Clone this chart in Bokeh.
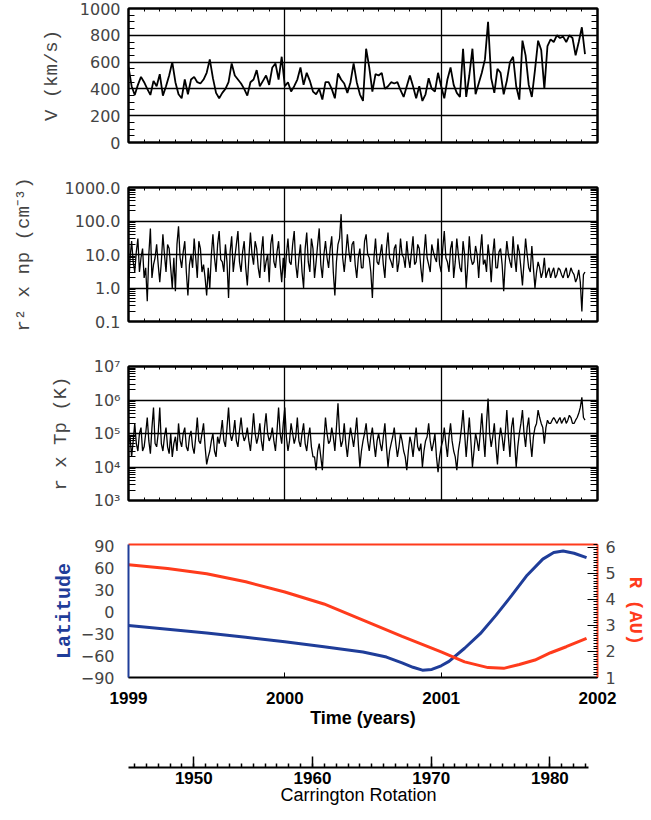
import numpy as np
from bokeh.plotting import figure
from bokeh.layouts import column
from bokeh.models import (Range1d, LinearAxis, FixedTicker, SingleIntervalTicker,
                          CustomJSTickFormatter)
from bokeh.embed import file_html
from bokeh.resources import INLINE

# ---------------- data ----------------
T_START = 1999.0
T_STEP = 0.02          # main samples at 1999.00, 1999.02, ...; *_mid at 1999.01, 1999.03, ...

speed = [  # V (km/s)
    565, 420, 355, 430, 490, 450, 400, 355, 460, 420,
    510, 350, 420, 500, 600, 450, 360, 330, 470, 360,
    470, 490, 450, 440, 470, 520, 620, 480, 370, 330,
    370, 400, 450, 590, 500, 470, 440, 400, 350, 450,
    470, 540, 420, 460, 500, 430, 560, 590, 470, 640,
    420, 450, 380, 420, 470, 560, 430, 520, 460, 380,
    360, 400, 320, 450, 450, 400, 330, 515, 470, 440,
    370, 450, 590, 450, 360, 310, 700, 560, 380, 510,
    500, 520, 400, 420, 450, 440, 450, 390, 340, 420,
    500, 420, 330, 420, 310, 360, 480, 400, 380, 520,
    420, 330, 470, 560, 430, 370, 340, 700, 340, 500,
    700, 360, 440, 520, 620, 900, 480, 370, 550, 520,
    360, 460, 600, 640, 420, 320, 760, 650, 430, 340,
    540, 760, 690, 400, 720, 770, 750, 800, 780, 790,
    750, 800, 780, 650, 750, 860, 660,
]

density = [  # r^2 x np (cm^-3)
    0.7, 25, 3, 30, 8, 2, 0.4, 60, 5, 20,
    1.5, 40, 3, 15, 1, 0.8, 70, 4, 25, 0.6,
    10, 30, 2, 15, 5, 0.6, 1, 40, 3, 50,
    6, 20, 0.5, 35, 8, 50, 3, 25, 1.2, 45,
    5, 15, 2, 35, 6, 1.5, 40, 4, 25, 1.5,
    2, 30, 5, 50, 2, 20, 1, 45, 3, 15,
    6, 60, 2, 25, 4, 35, 0.6, 20, 160, 3,
    40, 6, 25, 2, 15, 4, 40, 8, 0.5, 30,
    5, 20, 2, 45, 6, 15, 3, 30, 8, 25,
    4, 35, 6, 15, 1.5, 40, 5, 20, 8, 30,
    3, 50, 6, 15, 2, 30, 4, 25, 1, 35,
    5, 18, 2, 40, 7, 20, 1.5, 30, 4, 15,
    0.8, 25, 6, 35, 3, 12, 1.2, 30, 4, 18,
    1, 6, 2, 8, 3, 2, 4, 2.5, 3.5, 2,
    4, 2.5, 3, 1.5, 3.5, 0.2, 3,
]

density_mid = [
    8, 6, 12, 3, 15, 4, 10, 2, 8, 5,
    6, 10, 20, 4, 8, 20, 8, 12, 3, 5,
    4, 8, 25, 3, 2, 4, 10, 8, 20, 7,
    3, 6, 12, 3, 20, 6, 12, 4, 8, 10,
    25, 4, 12, 3, 10, 20, 6, 12, 5, 8,
    10, 6, 20, 5, 8, 3, 15, 6, 30, 2,
    20, 5, 10, 8, 15, 3, 6, 30, 8, 10,
    12, 20, 5, 8, 4, 25, 10, 3, 8, 6,
    10, 5, 15, 8, 4, 20, 6, 10, 4, 8,
    12, 5, 20, 4, 10, 8, 3, 12, 6, 5,
    15, 8, 3, 25, 6, 10, 3, 10, 5, 8,
    6, 10, 12, 5, 3, 8, 10, 4, 12, 5,
    6, 10, 4, 8, 20, 4, 6, 10, 3, 4,
    3, 4, 3, 2, 4, 3, 2, 4, 2.5, 3,
    2, 4, 2.5, 2, 1.5, 2.5,
]

temperature = [  # r x Tp (K)
    5e4, 2e4, 2e5, 3e4, 1.5e5, 4e4, 3e5, 2.5e4, 6e5, 4e4,
    6e5, 3e4, 1.5e5, 2.5e4, 2e4, 8e4, 2e5, 4e4, 1.5e5, 3e4,
    1.2e5, 2.5e4, 3e5, 5e4, 2e5, 1.2e4, 3e4, 1e5, 2e4, 5e4,
    2.5e5, 4e4, 6e5, 6e4, 2.5e5, 4e4, 3e5, 6e4, 1.5e5, 3e4,
    4e5, 5e4, 2e5, 3e4, 4e5, 6e4, 1.5e5, 3e4, 6e5, 5e4,
    6e5, 3e4, 2e5, 5e4, 3e5, 4e4, 2e5, 3e4, 1.5e5, 2e4,
    8e3, 5e4, 8e3, 3e5, 5e4, 1.5e5, 3e4, 8e5, 4e4, 2e5,
    2e4, 1.5e5, 4e4, 3e5, 1e4, 6e4, 2e5, 3e4, 1.5e5, 2e4,
    1e5, 3e4, 2e5, 1e4, 5e4, 1.5e5, 2e4, 1e5, 3e4, 8e3,
    8e4, 2e4, 1.5e5, 3e4, 1e4, 6e4, 2e5, 3e4, 1e5, 7e3,
    4e4, 1.5e5, 2e4, 2e5, 3e4, 8e3, 6e4, 5e5, 2e4, 3e5,
    1e4, 1e5, 3e4, 4e5, 2e4, 1.1e6, 4e4, 2e5, 1.2e4, 1.5e5,
    3e4, 5e5, 2e4, 3e5, 1e4, 1e5, 5e5, 4e4, 3e5, 2e4,
    1.5e5, 5e5, 2e5, 5e4, 2.5e5, 2e5, 3e5, 2e5, 3e5, 2.5e5,
    2e5, 3.5e5, 2e5, 2.5e5, 4e5, 1.2e6, 2.5e5,
]

temperature_mid = [
    8e4, 6e4, 5e4, 1e5, 3e4, 1e5, 6e4, 1.5e5, 5e4, 1e5,
    5e4, 8e4, 4e4, 1e5, 5e4, 3e4, 6e4, 1e5, 4e4, 8e4,
    4e4, 8e4, 6e4, 1e5, 4e4, 2e4, 6e4, 3e4, 8e4, 1e5,
    6e4, 1.5e5, 1e5, 1e5, 6e4, 1.2e5, 1e5, 8e4, 6e4, 1e5,
    1e5, 8e4, 6e4, 1.5e5, 1e5, 8e4, 6e4, 1.2e5, 1e5, 2e5,
    8e4, 6e4, 1e5, 8e4, 6e4, 1e5, 5e4, 8e4, 4e4, 2e4,
    3e4, 2e4, 6e4, 1e5, 6e4, 8e4, 1.5e5, 1e5, 6e4, 5e4,
    6e4, 8e4, 1e5, 5e4, 3e4, 1e5, 6e4, 8e4, 5e4, 6e4,
    5e4, 8e4, 4e4, 3e4, 8e4, 5e4, 4e4, 6e4, 2e4, 3e4,
    5e4, 6e4, 4e4, 5e4, 3e4, 8e4, 6e4, 5e4, 2e4, 2e4,
    6e4, 5e4, 8e4, 6e4, 2e4, 3e4, 1.5e5, 1e5, 8e4, 6e4,
    3e4, 6e4, 1e5, 8e4, 2e5, 1e5, 8e4, 4e4, 6e4, 8e4,
    1e5, 8e4, 1.5e5, 5e4, 4e4, 2e5, 1e5, 1.5e5, 6e4, 8e4,
    2e5, 3e5, 1.5e5, 1.5e5, 2e5, 2.5e5, 2.5e5, 2.5e5, 2e5, 3e5,
    2.5e5, 3e5, 2e5, 3e5, 6e5, 3e5,
]

lat_years = [1999.0, 1999.25, 1999.5, 1999.75, 2000.0, 2000.25, 2000.5, 2000.65,
             2000.75, 2000.82, 2000.88, 2000.94, 2001.0, 2001.05, 2001.15, 2001.25,
             2001.35, 2001.45, 2001.55, 2001.65, 2001.72, 2001.78, 2001.85, 2001.93]
latitude = [-19, -24, -29, -35, -41, -48, -55, -62, -70, -76, -80, -79, -74, -68,
            -50, -30, -5, 22, 50, 72, 81, 83, 80, 74]

r_years = [1999.0, 1999.25, 1999.5, 1999.75, 2000.0, 2000.25, 2000.5, 2000.75,
           2001.0, 2001.15, 2001.3, 2001.4, 2001.5, 2001.6, 2001.7, 2001.8, 2001.93]
distance = [5.32, 5.18, 4.98, 4.67, 4.28, 3.82, 3.2, 2.58, 1.98, 1.6, 1.38, 1.35,
            1.5, 1.67, 1.95, 2.18, 2.5]

year_ticks = [1999, 2000, 2001, 2002]
carrington_start, carrington_end = 1944.5, 1983.25

years = T_START + T_STEP * np.arange(len(speed))


def interleave(main, mid):
    out = []
    for i, v in enumerate(main):
        out.append(v)
        if i < len(mid):
            out.append(mid[i])
    return out


density_all = interleave(density, density_mid)
temperature_all = interleave(temperature, temperature_mid)
years_fine = T_START + (T_STEP / 2) * np.arange(len(density_all))

# ---------------- styling ----------------
LEFT, RIGHT, FW = 128, 50, 469
TICK_FONT, TICK_SIZE, TICK_COLOR = "DejaVu Sans", "16px", "#444444"
LAB_FONT, LAB_SIZE = "Liberation Mono", "19px"
BLUE, RED = "#1f3d99", "#ff3b1c"


def style_tick_labels(ax):
    ax.major_label_text_font = TICK_FONT
    ax.major_label_text_font_size = TICK_SIZE
    ax.major_label_text_color = TICK_COLOR
    ax.major_label_standoff = 8


def hidden_axis(ax):
    ax.major_label_text_font_size = "0px"
    ax.major_label_standoff = 0
    ax.formatter = CustomJSTickFormatter(code="return '';")


def data_panel(y_range, y_type, top, ylabel, left_ticker, fmt_code, standoff, tick_len):
    p = figure(frame_width=FW, frame_height=134, x_range=Range1d(1999, 2002),
               y_range=y_range, y_axis_type=y_type, output_backend="svg",
               toolbar_location=None, min_border_left=LEFT, min_border_right=RIGHT,
               min_border_top=top, min_border_bottom=25)
    p.outline_line_color = "black"
    p.outline_line_width = 2
    xa = p.below[0]
    xa.ticker = SingleIntervalTicker(interval=1, num_minor_ticks=10)
    hidden_axis(xa)
    xa.axis_line_width = 2
    xa.major_tick_in, xa.major_tick_out = 4, 0
    xa.minor_tick_in, xa.minor_tick_out = 3, 0
    top_ax = LinearAxis(ticker=SingleIntervalTicker(interval=1, num_minor_ticks=10))
    hidden_axis(top_ax)
    top_ax.axis_line_width = 2
    top_ax.major_tick_in, top_ax.major_tick_out = 4, 0
    top_ax.minor_tick_in, top_ax.minor_tick_out = 3, 0
    p.add_layout(top_ax, "above")
    ya = p.left[0]
    ya.ticker = left_ticker
    ya.formatter = CustomJSTickFormatter(code=fmt_code)
    style_tick_labels(ya)
    ya.axis_line_width = 2
    ya.major_tick_in, ya.major_tick_out = tick_len, 0
    ya.minor_tick_in, ya.minor_tick_out = tick_len, 0
    ya.axis_label = ylabel
    ya.axis_label_text_font = LAB_FONT
    ya.axis_label_text_font_size = LAB_SIZE
    ya.axis_label_text_font_style = "normal"
    ya.axis_label_text_color = TICK_COLOR
    ya.axis_label_standoff = standoff
    ra = LinearAxis(ticker=left_ticker)
    hidden_axis(ra)
    ra.axis_line_width = 2
    ra.major_tick_in, ra.major_tick_out = tick_len, 0
    ra.minor_tick_in, ra.minor_tick_out = tick_len, 0
    p.add_layout(ra, "right")
    for g in (p.xgrid[0], p.ygrid[0]):
        g.grid_line_color = "black"
        g.grid_line_width = 1.3
        g.grid_line_alpha = 1.0
    return p


# Panel 1: speed
p1 = data_panel(Range1d(0, 1000), "linear", 8, "V (km/s)",
                SingleIntervalTicker(interval=200, num_minor_ticks=4),
                "return String(tick);", 14, 6)
p1.line(years, speed, line_color="black", line_width=1.8)

# Panel 2: density
dec2 = [0.1, 1, 10, 100, 1000]
minor2 = [k * d for d in [0.1, 1, 10, 100] for k in range(2, 10)]
p2 = data_panel(Range1d(0.1, 1000), "log", 20, "r² x np (cm⁻³)",
                FixedTicker(ticks=dec2, minor_ticks=minor2),
                "return tick.toFixed(1);", 27, 7)
p2.line(years_fine, density_all, line_color="black", line_width=1.3)

# Panel 3: temperature
dec3 = [1e3, 1e4, 1e5, 1e6, 1e7]
minor3 = [k * d for d in [1e3, 1e4, 1e5, 1e6] for k in range(2, 10)]
p3 = data_panel(Range1d(1e3, 1e7), "log", 20, "r x Tp (K)",
                FixedTicker(ticks=dec3, minor_ticks=minor3),
                "const e = Math.round(Math.log10(tick)); "
                "return '10' + ({3: '³', 4: '⁴', 5: '⁵', 6: '⁶', 7: '⁷'})[e];", 19, 7)
p3.line(years_fine, temperature_all, line_color="black", line_width=1.3)

# Panel 4: latitude & distance
p4 = figure(frame_width=FW, frame_height=133, x_range=Range1d(1999, 2002),
            y_range=Range1d(-90, 92), output_backend="svg", toolbar_location=None,
            min_border_left=LEFT, min_border_right=RIGHT, min_border_top=19,
            min_border_bottom=62)
p4.outline_line_color = None
p4.grid.visible = False
p4.extra_y_ranges = {"r": Range1d(1, 6.1)}
p4.line(lat_years, latitude, line_color=BLUE, line_width=3)
p4.line(r_years, distance, line_color=RED, line_width=3, y_range_name="r")

xa4 = p4.below[0]
la = p4.left[0]

la.ticker = FixedTicker(ticks=[-90, -60, -30, 0, 30, 60, 90])
la.formatter = CustomJSTickFormatter(
    code="return tick < 0 ? '−' + (-tick) : String(tick);")
style_tick_labels(la)
la.axis_line_color = BLUE
la.axis_line_width = 2
la.major_tick_line_color = None
la.minor_tick_line_color = None
la.axis_label = "Latitude"
la.axis_label_text_font = LAB_FONT
la.axis_label_text_font_size = "20px"
la.axis_label_text_font_style = "bold"
la.axis_label_text_color = BLUE
la.axis_label_standoff = 2

ra4 = LinearAxis(y_range_name="r", ticker=SingleIntervalTicker(interval=1, num_minor_ticks=10))
ra4.formatter = CustomJSTickFormatter(code="return String(tick);")
style_tick_labels(ra4)
ra4.axis_line_color = RED
ra4.axis_line_width = 2
ra4.major_tick_line_color = "black"
ra4.minor_tick_line_color = "black"
ra4.major_tick_in, ra4.major_tick_out = 10, 0
ra4.minor_tick_in, ra4.minor_tick_out = 4, 0
ra4.axis_label = "R (AU)"
ra4.axis_label_text_font = LAB_FONT
ra4.axis_label_text_font_size = LAB_SIZE
ra4.axis_label_text_font_style = "bold"
ra4.axis_label_text_color = RED
ra4.axis_label_standoff = 5
p4.add_layout(ra4, "right")

ta4 = LinearAxis(ticker=FixedTicker(ticks=[]))
hidden_axis(ta4)
ta4.axis_line_color = RED
ta4.axis_line_width = 2
ta4.major_tick_line_color = None
ta4.minor_tick_line_color = None
p4.add_layout(ta4, "above")

xa4.ticker = FixedTicker(ticks=year_ticks)
xa4.formatter = CustomJSTickFormatter(code="return String(tick);")
xa4.axis_line_width = 2
xa4.major_tick_in, xa4.major_tick_out = 5, 0
xa4.minor_tick_line_color = None
xa4.major_label_text_font = "Liberation Sans"
xa4.major_label_text_font_size = "17px"
xa4.major_label_text_font_style = "bold"
xa4.major_label_text_color = "black"
xa4.major_label_standoff = 14
xa4.axis_label = "Time (years)"
xa4.axis_label_text_font = "Liberation Sans"
xa4.axis_label_text_font_size = "18px"
xa4.axis_label_text_font_style = "bold"
xa4.axis_label_text_color = "black"
xa4.axis_label_standoff = 1

# Carrington rotation axis
p5 = figure(frame_width=460, frame_height=20, x_range=Range1d(carrington_start, carrington_end),
            y_range=Range1d(0, 1), output_backend="svg", toolbar_location=None,
            min_border_left=LEFT, min_border_right=RIGHT + 9, min_border_top=8,
            min_border_bottom=40, y_axis_location=None)
p5.outline_line_color = None
p5.grid.visible = False
xa5 = p5.below[0]
xa5.ticker = SingleIntervalTicker(interval=10, num_minor_ticks=10)
xa5.formatter = CustomJSTickFormatter(code="return String(tick);")
xa5.axis_line_width = 2
xa5.major_tick_in, xa5.major_tick_out = 11, 0
xa5.minor_tick_in, xa5.minor_tick_out = 4, 0
xa5.major_tick_line_width = 1.5
xa5.minor_tick_line_width = 1.5
xa5.major_label_text_font = "Liberation Sans"
xa5.major_label_text_font_size = "17px"
xa5.major_label_text_font_style = "bold"
xa5.major_label_text_color = "black"
xa5.major_label_standoff = 4
xa5.axis_label = "Carrington Rotation"
xa5.axis_label_text_font = "Liberation Sans"
xa5.axis_label_text_font_size = "18px"
xa5.axis_label_text_font_style = "normal"
xa5.axis_label_text_color = "black"
xa5.axis_label_standoff = -2

layout = column(p1, p2, p3, p4, p5)
open("out.html", "w", encoding="utf-8").write(file_html(layout, INLINE))
